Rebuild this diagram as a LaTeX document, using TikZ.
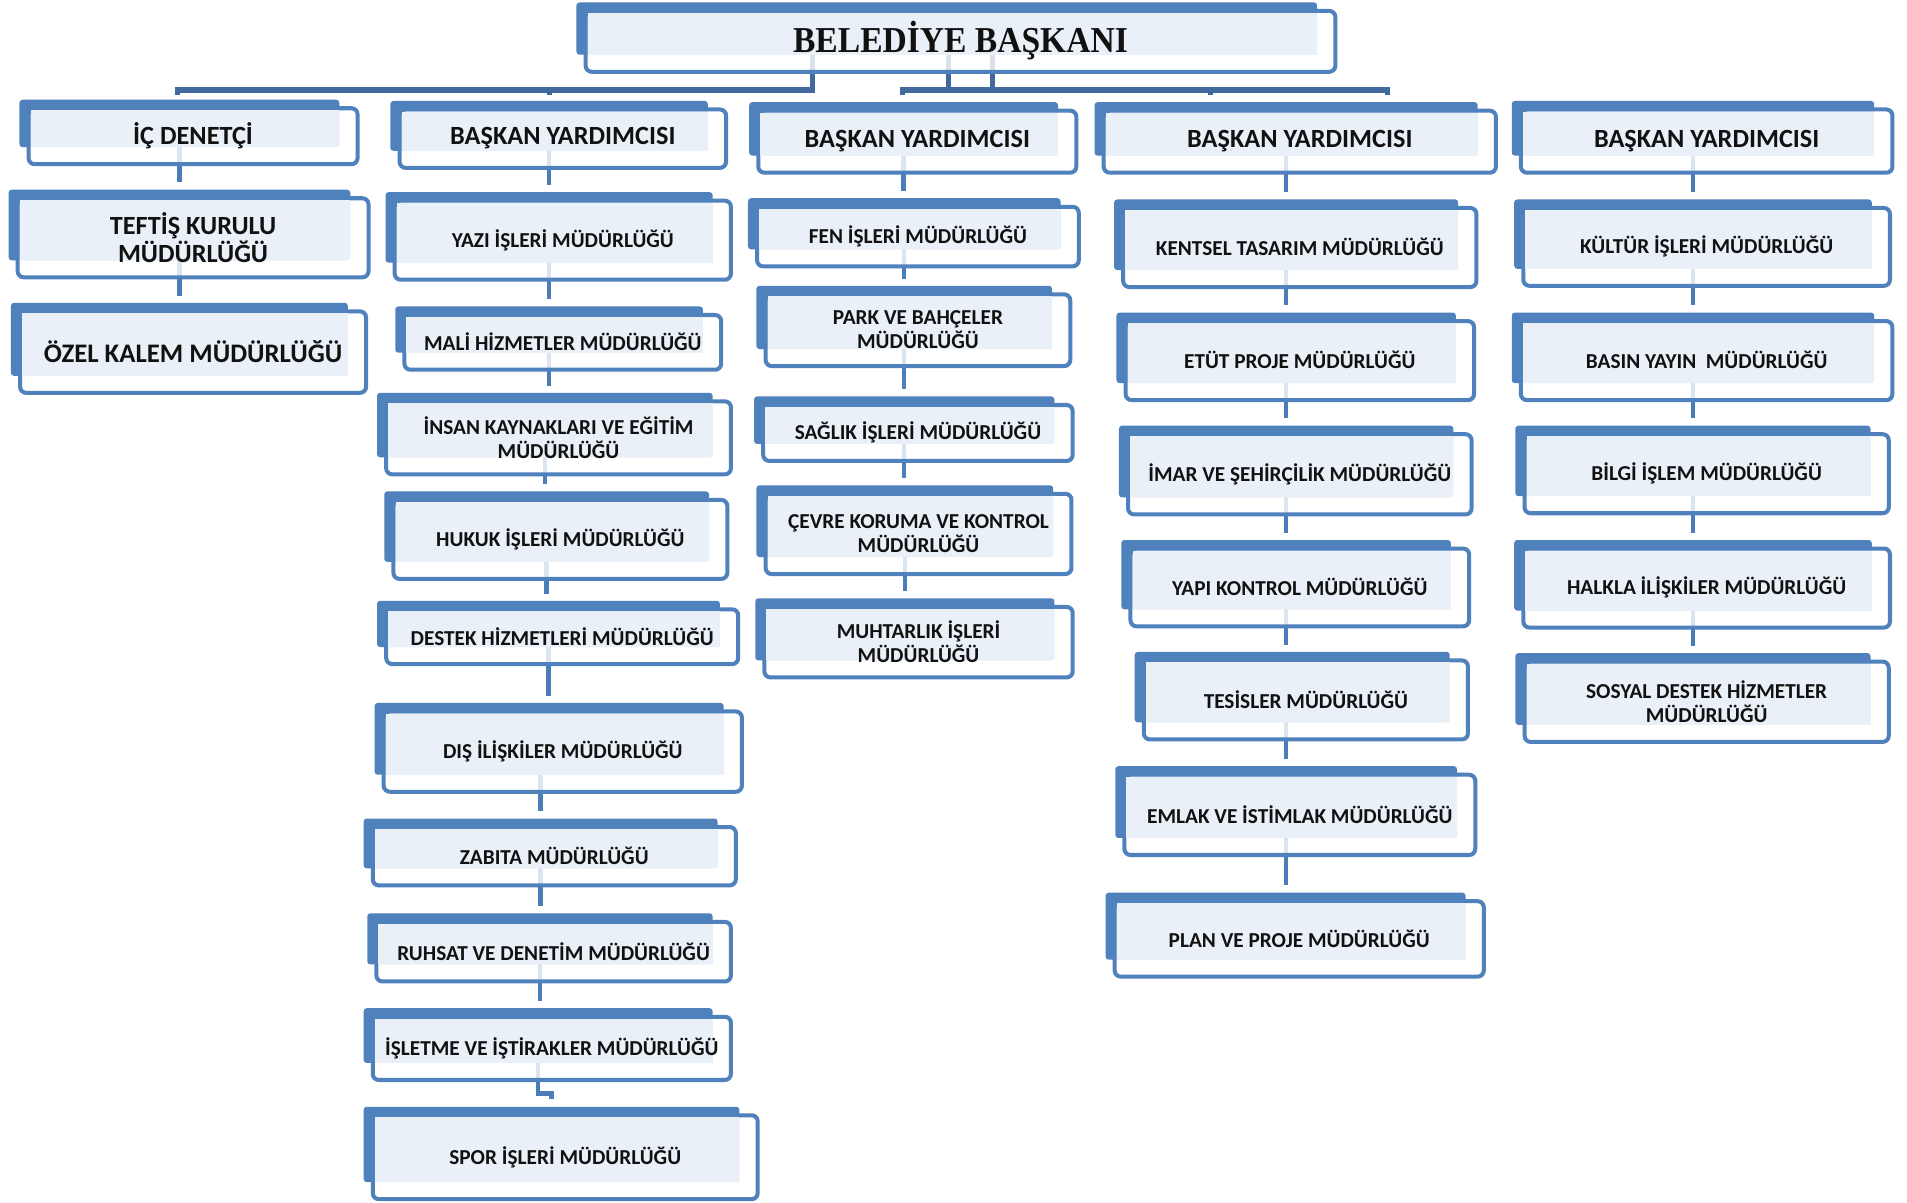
\documentclass[tikz,border=0pt]{standalone}
\usepackage{fontspec}
\usepackage{graphicx}
\setmainfont{Carlito}
\newfontfamily\titlefam{Liberation Serif}
\usetikzlibrary{calc}
\pgfdeclarelayer{back}
\pgfdeclarelayer{bg}
\pgfsetlayers{back,bg,main}
\definecolor{boxblue}{HTML}{4F81BD}
\definecolor{lightfill}{HTML}{EAF0F8}
\definecolor{linecol}{HTML}{4A7EBB}
\definecolor{buscol}{HTML}{41699E}
\definecolor{txt}{HTML}{111111}
\newcommand\fs{\fontsize{17.5}{19.5}\selectfont\bfseries}
\newcommand\fb{\fontsize{21.6}{23}\selectfont\bfseries}
\newcommand\fc{\fontsize{22}{24}\selectfont\bfseries}
\newcommand\ftitle{\titlefam\fontsize{30}{32}\selectfont\bfseries}
\tikzset{
 backbox/.style={fill=boxblue, rounded corners=2.5, inner sep=0, outer sep=0, draw=none},
 frontbox/.style={draw=boxblue, line width=3.3, fill=white, fill opacity=0.8, rounded corners=5},
 lightbox/.style={fill=lightfill},
 boxtext/.style={text=txt, align=center, inner sep=0},
 conn/.style={draw=linecol, line width=3.6},
 bus/.style={draw=buscol, line width=4.2},
}
\newcommand\obox[7][\fs]{%
 \node[backbox, minimum width={#5-#3}, minimum height={#6-#4}] (#2) at ({(#3+#5)/2},{(#4+#6)/2}) {};
 \path[frontbox] (#3+7.5,#4+7) rectangle (#5+15,#6+14);
 \path[lightbox] (#3+9.2,#4+8.7) rectangle (#5,#6);
 \node[boxtext, font=#1] (#2-t) at ({(#3+#5+22.5)/2},{(#4+#6+20.5)/2}) {#7};
}
% straight connector at the upper box's centre
\newcommand\conn[2]{\draw[conn] (#1.south) -- ($(#1.south |- #2.north)+(0,-6)$);}
% straight connector at the lower box's centre
\newcommand\connb[2]{\draw[conn] (#2.north |- #1.south) -- ($(#2.north)+(0,-6)$);}
% connector with a step
\newcommand\connj[2]{\draw[conn] (#1.south) |- ($(#1.south)!0.5!(#2.north)+(0,7)$) -| ($(#2.north)+(0,-6)$);}
\begin{document}
\begin{tikzpicture}[x=1pt,y=-1pt]
\begin{pgfonlayer}{back}
\fill[white] (0,0) rectangle (1568,989);
\end{pgfonlayer}
\useasboundingbox (0,0) rectangle (1568,989);

% title
\obox[\ftitle]{title}{474}{2}{1083}{45}{\scalebox{0.92}[1]{BELEDİYE BAŞKANI}}

% column 1
\obox[\fb]{ic}{16}{82}{279}{121}{İÇ DENETÇİ}
\obox[\fb]{teftis}{7}{156}{288}{214}{TEFTİŞ KURULU\\MÜDÜRLÜĞÜ}
\obox[\fc]{ozel}{9}{249}{286}{309}{ÖZEL KALEM MÜDÜRLÜĞÜ}

% column 2
\obox[\fb]{by2}{321}{83}{582}{124}{BAŞKAN YARDIMCISI}
\obox{yazi}{317}{158}{586}{216}{YAZI İŞLERİ MÜDÜRLÜĞÜ}
\obox{mali}{325}{252}{578}{290}{MALİ HİZMETLER MÜDÜRLÜĞÜ}
\obox{insan}{310}{323}{586}{376}{İNSAN KAYNAKLARI VE EĞİTİM\\MÜDÜRLÜĞÜ}
\obox{hukuk}{316}{404}{583}{462}{HUKUK İŞLERİ MÜDÜRLÜĞÜ}
\obox{destek}{310}{494}{592}{532}{DESTEK HİZMETLERİ MÜDÜRLÜĞÜ}
\obox{dis}{308}{578}{595}{637}{DIŞ İLİŞKİLER MÜDÜRLÜĞÜ}
\obox{zabita}{299}{673}{590}{714}{ZABITA MÜDÜRLÜĞÜ}
\obox{ruhsat}{302}{751}{586}{793}{RUHSAT VE DENETİM MÜDÜRLÜĞÜ}
\obox{isletme}{299}{829}{586}{874}{İŞLETME VE İŞTİRAKLER MÜDÜRLÜĞÜ}
\obox{spor}{299}{910}{608}{972}{SPOR İŞLERİ MÜDÜRLÜĞÜ}

% column 3
\obox[\fb]{by3}{616}{84}{870}{128}{BAŞKAN YARDIMCISI}
\obox{fen}{615}{163}{872}{205}{FEN İŞLERİ MÜDÜRLÜĞÜ}
\obox{park}{622}{235}{865}{287}{PARK VE BAHÇELER\\MÜDÜRLÜĞÜ}
\obox{saglik}{620}{326}{867}{365}{SAĞLIK İŞLERİ MÜDÜRLÜĞÜ}
\obox{cevre}{622}{399}{866}{458}{ÇEVRE KORUMA VE KONTROL\\MÜDÜRLÜĞÜ}
\obox{muhtar}{621}{492}{867}{543}{MUHTARLIK İŞLERİ\\MÜDÜRLÜĞÜ}

% column 4
\obox[\fb]{by4}{900}{84}{1215}{128}{BAŞKAN YARDIMCISI}
\obox{kentsel}{916}{164}{1199}{222}{KENTSEL TASARIM MÜDÜRLÜĞÜ}
\obox{etut}{918}{257}{1197}{315}{ETÜT PROJE MÜDÜRLÜĞÜ}
\obox{imar}{920}{350}{1195}{409}{İMAR VE ŞEHİRÇİLİK MÜDÜRLÜĞÜ}
\obox{yapi}{922}{444}{1193}{501}{YAPI KONTROL MÜDÜRLÜĞÜ}
\obox{tesis}{933}{536}{1192}{594}{TESİSLER MÜDÜRLÜĞÜ}
\obox{emlak}{917}{630}{1198}{689}{EMLAK VE İSTİMLAK MÜDÜRLÜĞÜ}
\obox{plan}{909}{734}{1205}{789}{PLAN VE PROJE MÜDÜRLÜĞÜ}

% column 5
\obox[\fb]{by5}{1243}{83}{1541}{128}{BAŞKAN YARDIMCISI}
\obox{kultur}{1245}{164}{1539}{221}{KÜLTÜR İŞLERİ MÜDÜRLÜĞÜ}
\obox{basin}{1243}{257}{1541}{315}{BASIN YAYIN\ \ MÜDÜRLÜĞÜ}
\obox{bilgi}{1246}{350}{1538}{408}{BİLGİ İŞLEM MÜDÜRLÜĞÜ}
\obox{halkla}{1245}{444}{1539}{502}{HALKLA İLİŞKİLER MÜDÜRLÜĞÜ}
\obox{sosyal}{1246}{537}{1538}{596}{SOSYAL DESTEK HİZMETLER\\MÜDÜRLÜĞÜ}

\begin{pgfonlayer}{bg}
% top bus
\coordinate (busL) at (146,74);
\coordinate (busLR) at (668,74);
\coordinate (busR1) at (742,74);
\coordinate (busR2) at (1141,74);
\coordinate (t1) at (780,74);
\coordinate (t2) at (816,74);
\coordinate (tk4) at (995,74);
\draw[bus] ($(busL)+(0,4)$) -- (busL) -- (busLR) -- (busLR |- title.south);
\draw[bus] (busL -| by2.north) -- ++(0,4);
\draw[bus] ($(busR1)+(0,4)$) -- (busR1) -- (busR2) -- ++(0,4);
\draw[bus] (t1) -- (t1 |- title.south);
\draw[bus] (t2) -- (t2 |- title.south);
\draw[bus] (tk4) -- ++(0,4);
% column connectors
\conn{ic}{teftis}\conn{teftis}{ozel}
\conn{by2}{yazi}\conn{yazi}{mali}\conn{mali}{insan}\conn{insan}{hukuk}
\conn{hukuk}{destek}\conn{destek}{dis}\connb{dis}{zabita}\conn{zabita}{ruhsat}
\conn{ruhsat}{isletme}\connj{isletme}{spor}
\conn{by3}{fen}\conn{fen}{park}\conn{park}{saglik}\conn{saglik}{cevre}\conn{cevre}{muhtar}
\conn{by4}{kentsel}\conn{kentsel}{etut}\conn{etut}{imar}\conn{imar}{yapi}
\conn{yapi}{tesis}\connb{tesis}{emlak}\conn{emlak}{plan}
\conn{by5}{kultur}\conn{kultur}{basin}\conn{basin}{bilgi}\conn{bilgi}{halkla}\conn{halkla}{sosyal}
\end{pgfonlayer}
\end{tikzpicture}
\end{document}
